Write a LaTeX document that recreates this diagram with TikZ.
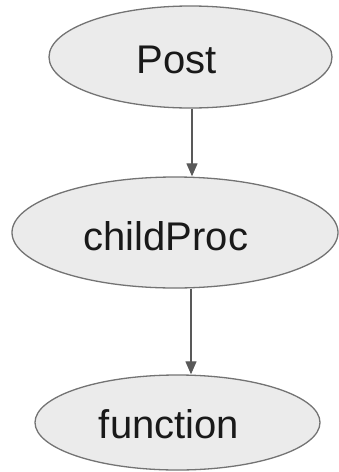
\documentclass[tikz,border=0pt]{standalone}
\usepackage{fontspec}
\setmainfont{Liberation Sans}
\usetikzlibrary{shapes.geometric,arrows.meta}
\begin{document}
\begin{tikzpicture}[x=1pt,y=-1pt,
  oval/.style={ellipse, draw=black!55, line width=1.3pt, fill=black!8, inner sep=0pt},
  lbl/.style={font=\fontsize{40}{42}\selectfont, text=black!90, inner sep=0pt},
  conn/.style={draw=black!65, line width=1.2pt, -{Triangle[length=13pt,width=11pt]}}]
\useasboundingbox (0,0) rectangle (339,472);
\node[oval, minimum width=283pt, minimum height=102pt] (post) at (190.5,57) {};
\node[oval, minimum width=326pt, minimum height=111pt] (child) at (175,232.5) {};
\node[oval, minimum width=285pt, minimum height=95pt] (func) at (177.5,422.5) {};
\node[lbl] (tpost) at (177,59.5) {Post};
\node[lbl] (tchild) at (166,236) {childProc};
\node[lbl] (tfunc) at (169,424) {function};
\coordinate (x1) at (192,0);
\coordinate (x2) at (191,0);
\draw[conn] (x1 |- post.south) -- (x1 |- child.north);
\draw[conn] (x2 |- child.south) -- (x2 |- func.north);
\end{tikzpicture}
\end{document}
